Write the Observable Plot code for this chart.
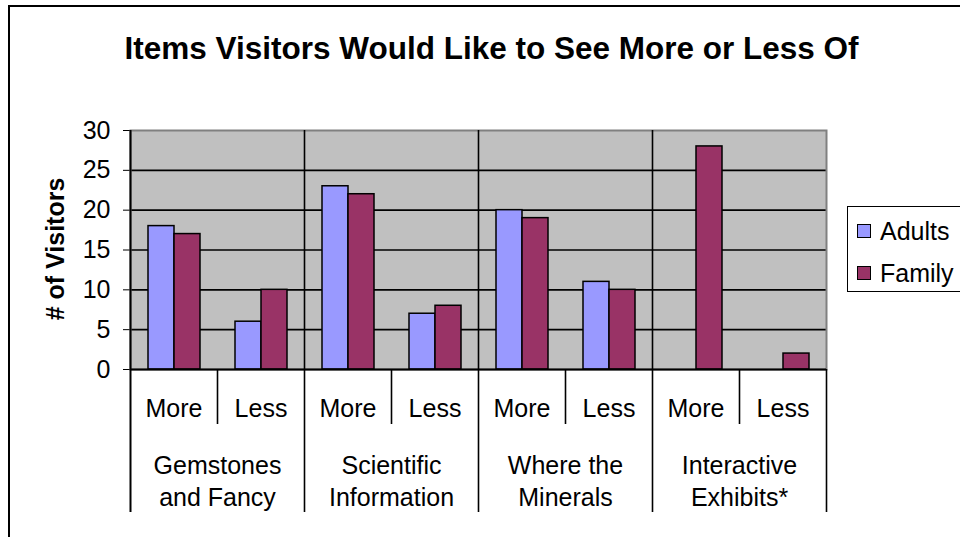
<!DOCTYPE html>
<html>
<head>
<meta charset="utf-8">
<script src="https://cdn.jsdelivr.net/npm/d3@7"></script>
<script src="https://cdn.jsdelivr.net/npm/@observablehq/plot@0.6"></script>
<style>
  html, body { margin: 0; padding: 0; background: #fff; }
  #wrap { position: relative; width: 960px; height: 537px; overflow: hidden;
          font-family: "Liberation Sans", Arial, Helvetica, sans-serif; color: #000; }
  #border { position: absolute; left: 8px; top: 5px; width: 1100px; height: 700px;
            border-left: 2.5px solid #000; border-top: 2.5px solid #000; box-sizing: border-box; }
  #chart { position: absolute; left: 0; top: 0; }
  #title { position: absolute; left: 0; top: 33px; width: 983px; text-align: center;
           font-weight: bold; font-size: 31.5px; line-height: 31px; white-space: nowrap; }
  #legend { position: absolute; left: 847px; top: 206px; width: 140px; height: 86px;
            border: 1.5px solid #000; box-sizing: border-box; background: #fff; }
  .item { position: absolute; left: 9px; height: 30px; display: flex; align-items: center;
          font-size: 25px; line-height: 30px; }
  .sw { width: 12px; height: 12px; border: 1.3px solid #000; margin-right: 9px; }
</style>
</head>
<body>
<div id="wrap">
  <div id="border"></div>
  <div id="chart"></div>
  <div id="title"></div>
  <div id="legend"></div>
</div>
<script>
// ---- data ----
const title = "Items Visitors Would Like to See More or Less Of";
const yLabel = "# of Visitors";
const groups = ["Gemstones\nand Fancy", "Scientific\nInformation", "Where the\nMinerals", "Interactive\nExhibits*"];
const subs = ["More", "Less"];
const seriesNames = ["Adults", "Family"];
const seriesColors = ["#9999FF", "#993366"];
const adults = [18, 6, 23, 7, 20, 11, null, null];
const family = [17, 10, 22, 8, 19, 10, 28, 2];
const yTicks = [0, 5, 10, 15, 20, 25, 30];

// ---- tables built from the arrays ----
const seriesValues = [adults, family];
const rows = [];
groups.forEach((g, gi) => subs.forEach((s, si) => {
  const i = gi * subs.length + si;
  rows.push({group: g, sub: s, i, x1: i, x2: i + 1, mid: i + 0.5});
}));
const groupRows = groups.map((g, gi) => ({group: g, start: gi * subs.length, mid: gi * subs.length + subs.length / 2}));
const nCats = rows.length;
const bars = seriesNames.map((name, k) =>
  rows.map(r => ({...r, series: name, value: seriesValues[k][r.i]})).filter(d => d.value != null));

// ---- styles ----
const lineW = 1.6;
const padL = 18, barW = 26;
const band = 87;

const marks = [
  Plot.frame({fill: "#C0C0C0"}),
  Plot.ruleY(yTicks.slice(1, -1), {stroke: "#000", strokeWidth: lineW}),
  Plot.frame({stroke: "#808080", strokeWidth: 2}),
  // group dividers (through plot area and down through the label rows)
  Plot.ruleX(groupRows.slice(1), {x: "start", stroke: "#000", strokeWidth: lineW, insetBottom: -143}),
  Plot.ruleX([0], {stroke: "#000", strokeWidth: lineW + 0.4, insetBottom: -143}),
  Plot.ruleX([nCats], {y1: 0, y2: 0, stroke: "#000", strokeWidth: lineW, insetBottom: -143}),
  // sub-category dividers (below the axis only)
  Plot.ruleX(groupRows, {x: d => d.start + 1, y1: 0, y2: 0, stroke: "#000", strokeWidth: lineW, insetBottom: -55}),
  ...bars.map((data, k) => Plot.rectY(data, {
    x1: "x1", x2: "x2", y: "value",
    fill: seriesColors[k], stroke: "#000", strokeWidth: 1.5,
    insetLeft: padL + k * barW, insetRight: band - padL - (k + 1) * barW
  })),
  Plot.ruleY([0], {stroke: "#000", strokeWidth: lineW + 0.4}),
  // category labels
  Plot.text(rows, {x: "mid", text: "sub", frameAnchor: "bottom", lineAnchor: "top", dy: 30, fontSize: 25}),
  Plot.text(groupRows, {x: "mid", text: "group", frameAnchor: "bottom", lineAnchor: "top", dy: 81, fontSize: 25, lineHeight: 1.3}),
  // y label
  Plot.text([yLabel], {text: d => d, frameAnchor: "left", textAnchor: "middle", rotate: -90, dx: -75, dy: -1, fontSize: 25, fontWeight: "bold"})
];

const chart = Plot.plot({
  width: 960,
  height: 537,
  marginLeft: 130,
  marginRight: 134,
  marginTop: 130,
  marginBottom: 168,
  style: {fontFamily: "'Liberation Sans', Arial, sans-serif", fontSize: "25px", color: "#000", background: "transparent", overflow: "visible"},
  x: {domain: [0, nCats], axis: null},
  y: {domain: [yTicks[0], yTicks[yTicks.length - 1]], ticks: yTicks.length - 1, tickSize: 7, tickPadding: 13, label: null},
  marks
});
document.getElementById("chart").appendChild(chart);
document.getElementById("title").textContent = title;

const legend = document.getElementById("legend");
seriesNames.forEach((name, k) => {
  const it = document.createElement("div");
  it.className = "item";
  it.style.top = (9 + k * 42) + "px";
  const sw = document.createElement("div");
  sw.className = "sw";
  sw.style.background = seriesColors[k];
  const tx = document.createElement("span");
  tx.textContent = name;
  it.appendChild(sw); it.appendChild(tx);
  legend.appendChild(it);
});
</script>
</body>
</html>
